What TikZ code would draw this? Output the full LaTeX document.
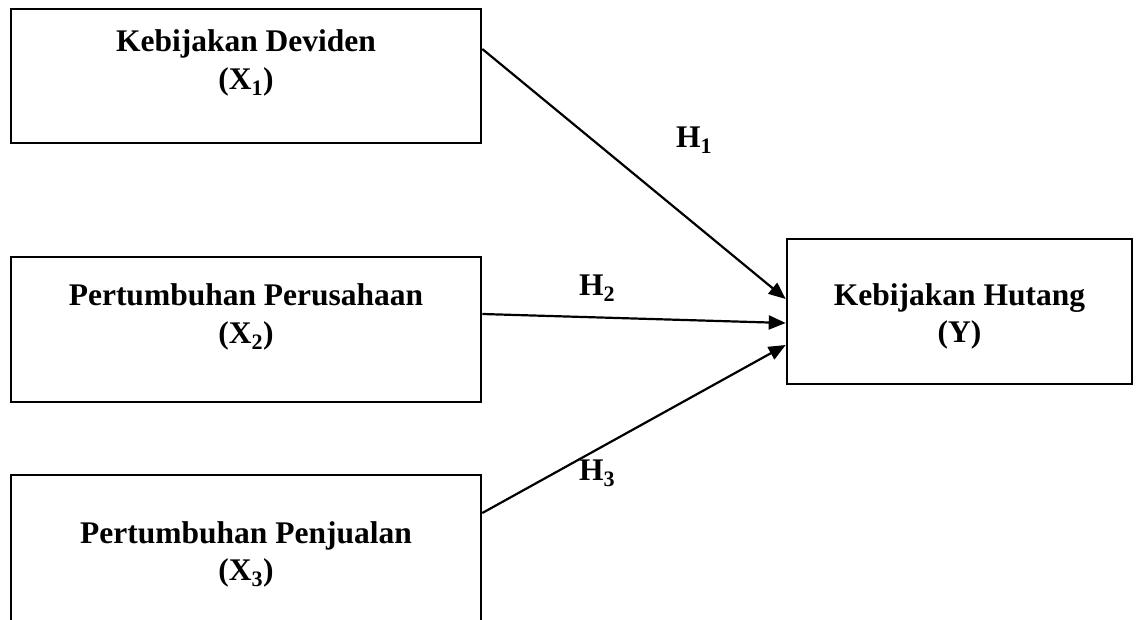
\documentclass[tikz,border=0pt]{standalone}
\usepackage{fontspec}
\setmainfont{Liberation Serif}
\usetikzlibrary{arrows.meta}
\begin{document}
\begin{tikzpicture}[x=1pt,y=-1pt,
  boxnode/.style={draw, line width=2.6pt, rectangle, inner sep=0pt},
  lbl/.style={anchor=base, inner sep=0pt, font=\fontsize{31.5}{36}\selectfont\bfseries},
  arr/.style={line width=2.2pt, -{Triangle[length=17pt,width=14pt]}}]
\useasboundingbox (0,0) rectangle (1139,620);
\clip (0,0) rectangle (1139,620);
% boxes
\node[boxnode, minimum width=470pt, minimum height=134pt] (box1) at (246,76) {};
\node[boxnode, minimum width=470pt, minimum height=145pt] (box2) at (246,329.5) {};
\node[boxnode, minimum width=470pt, minimum height=175pt] (box3) at (246,562.5) {};
\node[boxnode, minimum width=345pt, minimum height=145pt] (boxY) at (959.5,311.5) {};
% texts
\node[lbl] (t1a) at (246,52) {Kebijakan Deviden};
\node[lbl] (t1b) at (246,90) {(X\textsubscript{1})};
\node[lbl] (t2a) at (246,305) {Pertumbuhan Perusahaan};
\node[lbl] (t2b) at (246,343) {(X\textsubscript{2})};
\node[lbl] (t3a) at (246,543) {Pertumbuhan Penjualan};
\node[lbl] (t3b) at (246,580) {(X\textsubscript{3})};
\node[lbl] (tya) at (959.5,305) {Kebijakan Hutang};
\node[lbl] (tyb) at (959.5,342) {(Y)};
% hypothesis labels
\node[lbl, anchor=base west] (h1) at (676,148) {H\textsubscript{1}};
\node[lbl, anchor=base west] (h2) at (579,295) {H\textsubscript{2}};
\node[lbl, anchor=base west] (h3) at (579,480) {H\textsubscript{3}};
% arrows
\draw[arr] (box1.east |- 0,49) -- (boxY.west |- 0,299);
\draw[arr] (box2.east |- 0,314) -- (boxY.west |- 0,323);
\draw[arr] (box3.east |- 0,513) -- (boxY.west |- 0,345);
\end{tikzpicture}
\end{document}
